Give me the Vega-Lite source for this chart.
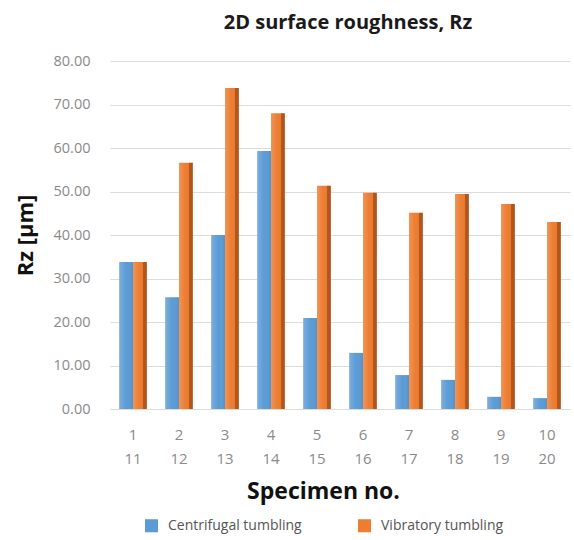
{
  "$schema": "https://vega.github.io/schema/vega-lite/v6.json",
  "autosize": "none",
  "width": 460,
  "height": 348,
  "padding": {"left": 110, "top": 61, "right": 4, "bottom": 131},
  "background": "white",
  "title": {
    "text": "2D surface roughness, Rz",
    "font": "Open Sans",
    "fontSize": 20,
    "fontWeight": "bold",
    "color": "#1a1a1a",
    "anchor": "middle",
    "dx": 8,
    "offset": 20
  },
  "data": {
    "values": [
      {"spec": "1/11", "method": "Centrifugal tumbling", "rz": 33.8},
      {"spec": "1/11", "method": "Vibratory tumbling", "rz": 33.8},
      {"spec": "2/12", "method": "Centrifugal tumbling", "rz": 25.7},
      {"spec": "2/12", "method": "Vibratory tumbling", "rz": 56.6},
      {"spec": "3/13", "method": "Centrifugal tumbling", "rz": 40.0},
      {"spec": "3/13", "method": "Vibratory tumbling", "rz": 73.8},
      {"spec": "4/14", "method": "Centrifugal tumbling", "rz": 59.3},
      {"spec": "4/14", "method": "Vibratory tumbling", "rz": 68.0},
      {"spec": "5/15", "method": "Centrifugal tumbling", "rz": 20.9},
      {"spec": "5/15", "method": "Vibratory tumbling", "rz": 51.3},
      {"spec": "6/16", "method": "Centrifugal tumbling", "rz": 12.9},
      {"spec": "6/16", "method": "Vibratory tumbling", "rz": 49.7},
      {"spec": "7/17", "method": "Centrifugal tumbling", "rz": 7.8},
      {"spec": "7/17", "method": "Vibratory tumbling", "rz": 45.1},
      {"spec": "8/18", "method": "Centrifugal tumbling", "rz": 6.7},
      {"spec": "8/18", "method": "Vibratory tumbling", "rz": 49.4},
      {"spec": "9/19", "method": "Centrifugal tumbling", "rz": 2.8},
      {"spec": "9/19", "method": "Vibratory tumbling", "rz": 47.1},
      {"spec": "10/20", "method": "Centrifugal tumbling", "rz": 2.5},
      {"spec": "10/20", "method": "Vibratory tumbling", "rz": 43.0}
    ]
  },
  "encoding": {
    "x": {
      "field": "spec",
      "type": "nominal",
      "sort": null,
      "scale": {"paddingInner": 0.4, "paddingOuter": 0.2},
      "axis": {
        "title": "Specimen no.",
        "titleFont": "Open Sans",
        "titleFontSize": 23,
        "titleFontWeight": "bold",
        "titleColor": "#111111",
        "titlePadding": 14,
        "titleX": 213,
        "labelExpr": "split(datum.label, '/')",
        "labelAngle": 0,
        "labelFont": "Open Sans",
        "labelFontSize": 15,
        "labelColor": "#8a8a8a",
        "labelLineHeight": 24,
        "labelPadding": 18,
        "ticks": false,
        "domain": false
      }
    },
    "xOffset": {
      "field": "method",
      "type": "nominal",
      "scale": {"domain": ["Centrifugal tumbling", "Vibratory tumbling"]}
    },
    "y": {
      "field": "rz",
      "type": "quantitative",
      "scale": {"domain": [0, 80]},
      "axis": {
        "title": "Rz [µm]",
        "titleFont": "Open Sans",
        "titleFontSize": 22,
        "titleFontWeight": "bold",
        "titleColor": "#111111",
        "titlePadding": 16,
        "format": ".2f",
        "values": [0, 10, 20, 30, 40, 50, 60, 70, 80],
        "labelOverlap": false,
        "labelFont": "Open Sans",
        "labelFontSize": 14.5,
        "labelColor": "#8a8a8a",
        "labelPadding": 20,
        "ticks": false,
        "domain": false,
        "grid": true,
        "gridColor": "#dcdcdc",
        "gridWidth": 1
      }
    }
  },
  "layer": [
    {
      "mark": {"type": "bar"},
      "encoding": {
        "color": {
          "field": "method",
          "type": "nominal",
          "scale": {
            "domain": ["Centrifugal tumbling", "Vibratory tumbling"],
            "range": ["#5b9bd5", "#ed7d31"]
          },
          "legend": {
            "orient": "none",
            "direction": "horizontal",
            "legendX": 34,
            "legendY": 457,
            "title": null,
            "symbolType": "square",
            "symbolSize": 170,
            "symbolStrokeWidth": 1,
            "labelFont": "Open Sans",
            "labelFontSize": 14,
            "labelColor": "#555555",
            "columnPadding": 55,
            "labelOffset": 9
          }
        }
      }
    },
    {
      "mark": {"type": "bar"},
      "encoding": {
        "fill": {
          "condition": {
            "test": "datum.method === 'Vibratory tumbling'",
            "value": {
              "gradient": "linear",
              "x1": 0, "y1": 0, "x2": 1, "y2": 0,
              "stops": [
                {"offset": 0, "color": "rgba(255,255,255,0.18)"},
                {"offset": 0.45, "color": "rgba(255,255,255,0.0)"},
                {"offset": 0.72, "color": "rgba(0,0,0,0.04)"},
                {"offset": 0.74, "color": "rgba(90,30,0,0.38)"},
                {"offset": 1, "color": "rgba(90,30,0,0.45)"}
              ]
            }
          },
          "value": {
            "gradient": "linear",
            "x1": 0, "y1": 0, "x2": 1, "y2": 0,
            "stops": [
              {"offset": 0, "color": "rgba(255,255,255,0.2)"},
              {"offset": 0.5, "color": "rgba(255,255,255,0.0)"},
              {"offset": 1, "color": "rgba(0,0,0,0.06)"}
            ]
          }
        }
      }
    }
  ],
  "config": {
    "view": {"stroke": null}
  }
}
